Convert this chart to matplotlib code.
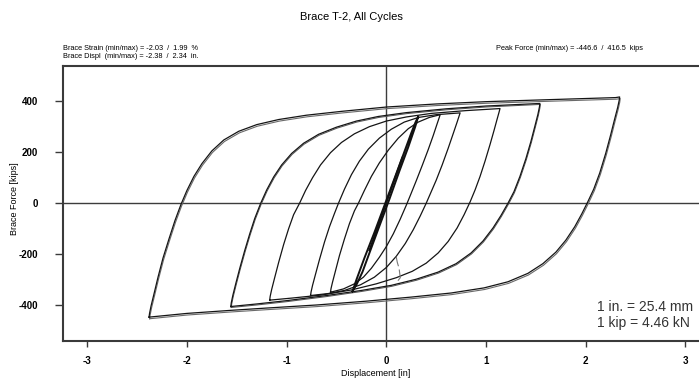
import matplotlib
matplotlib.use("Agg")
import matplotlib.pyplot as plt
import matplotlib.transforms as mtransforms

plt.rcParams['font.family'] = ['Liberation Sans', 'DejaVu Sans']

# ---- Brace T-2 hysteresis, one closed loop per amplitude group ----
# each loop starts at its compression peak, climbs the tension branch,
# then unloads back down the compression branch

# +/-2.34 in. cycles
loop_a_disp = [-2.38, -2.375, -2.36, -2.33, -2.29, -2.24, -2.18, -2.12, -2.06, -2.00, -1.93,
               -1.85, -1.75, -1.63, -1.48, -1.30, -1.08, -0.80, -0.45, 0.00, 0.50, 1.00,
               1.64, 2.30, 2.34,
               2.335, 2.32, 2.29, 2.25, 2.20, 2.14, 2.08, 2.02, 1.96, 1.89, 1.80, 1.70,
               1.57, 1.42, 1.22, 0.98, 0.65, 0.25, -0.20, -0.70, -1.20, -1.56, -2.00, -2.38]
loop_a_force = [-446.6, -432, -403, -355, -290, -215, -140, -68, -5, 50, 105,
                155, 205, 248, 282, 308, 328, 345, 360, 377, 389, 398,
                406, 414, 416.5,
                402, 375, 330, 268, 195, 118, 55, 5, -42, -92, -145, -192,
                -237, -275, -308, -332, -352, -368, -384, -399, -411, -420, -432, -446.6]

# +/-1.54 in. cycles
loop_b_disp = [-1.56, -1.555, -1.54, -1.51, -1.47, -1.42, -1.37, -1.32, -1.26, -1.20, -1.13,
               -1.05, -0.95, -0.83, -0.68, -0.50, -0.30, -0.08, 0.20, 0.60, 1.00, 1.54,
               1.535, 1.52, 1.49, 1.45, 1.40, 1.34, 1.28, 1.22, 1.15, 1.07, 0.97, 0.85,
               0.70, 0.52, 0.30, 0.05, -0.25, -0.60, -1.00, -1.30, -1.56]
loop_b_force = [-405, -390, -362, -315, -255, -185, -120, -60, 0, 52, 103,
                150, 195, 235, 270, 298, 322, 340, 355, 370, 381, 391,
                376, 348, 302, 242, 175, 105, 45, 0, -48, -97, -148, -195,
                -237, -270, -298, -322, -342, -362, -382, -395, -405]

# +/-1.14 in. cycles
loop_c_disp = [-1.17, -1.165, -1.15, -1.12, -1.08, -1.03, -0.98, -0.93, -0.87, -0.81, -0.74,
               -0.66, -0.56, -0.45, -0.32, -0.17, 0.00, 0.20, 0.45, 0.80, 1.14,
               1.13, 1.11, 1.08, 1.04, 0.99, 0.94, 0.89, 0.84, 0.78, 0.71, 0.62, 0.52,
               0.40, 0.26, 0.10, -0.10, -0.35, -0.65, -0.95, -1.17]
loop_c_force = [-380, -365, -338, -292, -232, -162, -100, -45, 0, 50, 100,
                150, 198, 238, 272, 300, 322, 338, 352, 363, 371,
                356, 328, 285, 230, 165, 105, 52, 5, -45, -97, -150, -195,
                -235, -267, -292, -316, -340, -360, -372, -380]

# +/-0.74 in. cycles
loop_d_disp = [-0.76, -0.755, -0.74, -0.71, -0.67, -0.62, -0.57, -0.52, -0.48, -0.42, -0.35,
               -0.27, -0.18, -0.07, 0.05, 0.18, 0.32, 0.50, 0.74,
               0.73, 0.71, 0.67, 0.62, 0.56, 0.50, 0.44, 0.40, 0.34, 0.27, 0.19, 0.10,
               0.00, -0.12, -0.26, -0.42, -0.58, -0.76]
loop_d_force = [-362, -348, -322, -278, -220, -152, -92, -40, 0, 55, 112,
                165, 212, 255, 290, 318, 336, 347, 354,
                342, 318, 272, 215, 150, 90, 36, 0, -50, -104, -158, -208,
                -252, -290, -320, -342, -354, -362]

# +/-0.54 in. cycles
loop_e_disp = [-0.56, -0.555, -0.54, -0.51, -0.47, -0.42, -0.37, -0.32, -0.28, -0.22, -0.15,
               -0.07, 0.02, 0.12, 0.22, 0.32, 0.43, 0.54,
               0.53, 0.51, 0.47, 0.42, 0.36, 0.30, 0.24, 0.20, 0.14, 0.07, 0.00, -0.07,
               -0.15, -0.23, -0.32, -0.43, -0.56]
loop_e_force = [-349, -335, -310, -265, -205, -140, -80, -30, 0, 50, 105,
                158, 208, 255, 292, 318, 336, 347,
                335, 312, 265, 210, 148, 88, 30, -8, -62, -120, -170, -212,
                -255, -290, -316, -336, -349]

# +/-0.32 in. cycles
loop_f_disp = [-0.34, -0.30, -0.22, -0.12, -0.02, 0.08, 0.17, 0.25, 0.29, 0.32,
               0.29, 0.22, 0.13, 0.03, -0.07, -0.16, -0.24, -0.30, -0.34]
loop_f_force = [-346, -300, -215, -115, -10, 95, 190, 275, 315, 340,
                300, 220, 125, 15, -90, -185, -270, -320, -346]

# small elastic cycles
elastic_disp = [-0.17, 0.16]
elastic_force = [-185, 178]

# short traces left at the end of the test
tail_disp = [0.10, 0.11, 0.12]
tail_force = [-212, -232, -245]
tail2_disp = [0.13, 0.14, 0.12]
tail2_force = [-262, -292, -302]

x_ticks = [-3, -2, -1, 0, 1, 2, 3]
y_ticks = [-400, -200, 0, 200, 400]
y_tick_labels = ['-400', '-200', '0', '200', '400']

W, H = 699, 381
fig = plt.figure(figsize=(W / 100, H / 100), dpi=100)
fig.patch.set_facecolor('white')

ax_l, ax_r, ax_t, ax_b = 63.3, 701.4, 65.7, 340.7
ax = fig.add_axes([ax_l / W, 1 - ax_b / H, (ax_r - ax_l) / W, (ax_b - ax_t) / H])
ax.set_xlim(-3.24, 3.16)
ax.set_ylim(-539, 539)

for side in ('left', 'top', 'bottom'):
    ax.spines[side].set_color('#3a3a3a')
    ax.spines[side].set_linewidth(1.5)
ax.spines['right'].set_visible(False)

ax.axhline(0, color='#3c3c3c', lw=1.0, zorder=1)
ax.axvline(0, color='#3c3c3c', lw=1.0, zorder=1)

line_kw = dict(color='#151515', lw=0.9, solid_joinstyle='round', zorder=3)

# the repeated large cycles sit almost on top of each other
shift = mtransforms.offset_copy(ax.transData, fig=fig, x=0.6, y=-1.6, units='dots')
ax.plot(loop_a_disp, loop_a_force, color='#6a6a6a', lw=0.8, transform=shift, zorder=2)
ax.plot(loop_a_disp, loop_a_force, **line_kw)

shift_b = mtransforms.offset_copy(ax.transData, fig=fig, x=0.5, y=-1.0, units='dots')
ax.plot(loop_b_disp, loop_b_force, color='#555555', lw=0.7, transform=shift_b, zorder=2)
ax.plot(loop_b_disp, loop_b_force, **line_kw)
ax.plot(loop_c_disp, loop_c_force, **line_kw)
ax.plot(loop_d_disp, loop_d_force, **line_kw)
ax.plot(loop_e_disp, loop_e_force, **line_kw)
ax.plot(loop_f_disp, loop_f_force, color='#111111', lw=1.4, solid_joinstyle='round', zorder=3)
ax.plot(elastic_disp, elastic_force, color='#111111', lw=1.4, zorder=3)
ax.plot(tail_disp, tail_force, color='#777777', lw=0.8, zorder=3)
ax.plot(tail2_disp, tail2_force, color='#777777', lw=0.8, zorder=3)

ax.set_xticks(x_ticks)
ax.set_xticklabels([str(v) for v in x_ticks], fontweight='bold')
ax.set_yticks(y_ticks)
ax.set_yticklabels(y_tick_labels, fontweight='bold')
ax.tick_params(axis='x', direction='out', length=4, width=1.0, pad=7,
               labelsize=7, color='#3a3a3a')
ax.tick_params(axis='y', direction='out', length=6, width=1.0, pad=12,
               labelsize=7, color='#3a3a3a')

for t, (px, py) in [('1 in. = 25.4 mm', (597, 307)), ('1 kip = 4.46 kN', (597, 323))]:
    fig.text(px / W, 1 - py / H, t, fontsize=10, color='#333333', va='center', ha='left')

fig.text(351 / W, 1 - 17.3 / H, 'Brace T-2, All Cycles', ha='center', va='center', fontsize=8)
fig.text(63.3 / W, 1 - 49 / H, 'Brace Strain (min/max) = -2.03  /  1.99  %',
         fontsize=5.3, va='center', ha='left')
fig.text(63.3 / W, 1 - 56.7 / H, 'Brace Displ  (min/max) = -2.38  /  2.34  in.',
         fontsize=5.3, va='center', ha='left')
fig.text(496 / W, 1 - 49 / H, 'Peak Force (min/max) = -446.6  /  416.5  kips',
         fontsize=5.3, va='center', ha='left')
fig.text(15 / W, 1 - 199 / H, 'Brace Force [kips]', rotation=90, fontsize=6.5,
         va='center', ha='center')
fig.text(376 / W, 1 - 373 / H, 'Displacement [in]', fontsize=6.5, va='center', ha='center')

fig.savefig('out.png', dpi=100, facecolor='white')
